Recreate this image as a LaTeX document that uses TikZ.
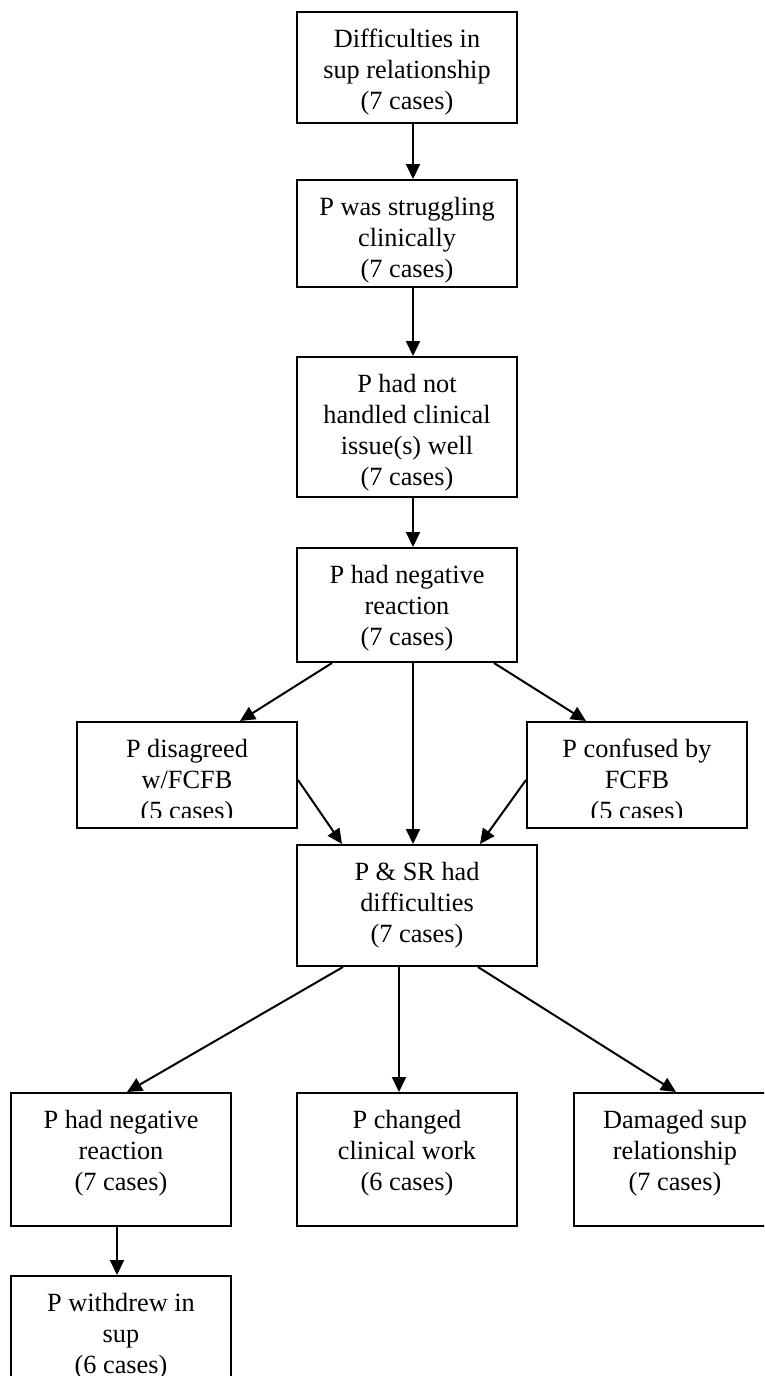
\documentclass[tikz,border=0pt]{standalone}
\usepackage{fontspec}
\setmainfont{Liberation Serif}
\usetikzlibrary{arrows.meta}
\tikzset{box/.style={draw,line width=2pt,minimum width=220pt,inner sep=0pt},
  txt/.style={align=center,inner sep=0pt,anchor=north,font=\fontsize{26.3}{31}\selectfont},
  arr/.style={line width=2pt,-{Triangle[length=15pt,width=14pt]}}}

\begin{document}
\begin{tikzpicture}[x=1pt,y=-1pt]
\path[use as bounding box] (0,0) rectangle (764,1376);
\clip (0,0) rectangle (764,1376);

% main column
\node[box,minimum height=111pt] (sup) at (407,67.5) {};
\node[txt] (supT) at (407,26) {\strut Difficulties in\\sup relationship\\(7 cases)};
\node[box,minimum height=107pt] (strug) at (407,233.5) {};
\begin{scope}
  \clip (297,180) rectangle (517,286);
  \node[txt] (strugT) at (407,194) {\strut P was struggling\\clinically\\(7 cases)};
\end{scope}
\node[box,minimum height=140pt] (hand) at (407,427) {};
\node[txt] (handT) at (407,371) {\strut P had not\\handled clinical\\issue(s) well\\(7 cases)};
\node[box,minimum height=114pt] (neg) at (407,605) {};
\node[txt] (negT) at (407,562) {\strut P had negative\\reaction\\(7 cases)};

% side boxes
\node[box,minimum height=106pt] (dis) at (187,775) {};
\node[box,minimum height=106pt] (conf) at (637,775) {};
\begin{scope}
  \clip (77,722) rectangle (297,817) (527,722) rectangle (747,817);
  \node[txt] (disT) at (187,736) {\strut P disagreed\\w/FCFB\\(5 cases)};
  \node[txt] (confT) at (637,736) {\strut P confused by\\FCFB\\(5 cases)};
\end{scope}
\node[box,minimum width=240pt,minimum height=121pt] (ps) at (417,905.5) {};
\node[txt] (psT) at (417,859) {\strut P \& SR had\\difficulties\\(7 cases)};

% bottom row
\node[box,minimum height=133pt] (neg2) at (121,1159.5) {};
\node[txt] (neg2T) at (121,1107) {\strut P had negative\\reaction\\(7 cases)};
\node[box,minimum height=133pt] (chg) at (407,1159.5) {};
\node[txt] (chgT) at (407,1107) {\strut P changed\\clinical work\\(6 cases)};
\node[box,minimum height=133pt] (dam) at (684,1159.5) {};
\node[txt] (damT) at (675,1107) {\strut Damaged sup\\relationship\\(7 cases)};
\node[box,minimum height=124pt] (wd) at (121,1338) {};
\node[txt] (wdT) at (121,1290) {\strut P withdrew in\\sup\\(6 cases)};

% connectors
\draw[arr] ([xshift=6]sup.south) -- ([xshift=6]strug.north);
\draw[arr] ([xshift=6]strug.south) -- ([xshift=6]hand.north);
\draw[arr] ([xshift=6]hand.south) -- ([xshift=6]neg.north);
\draw[arr] ([xshift=-75]neg.south) -- ([xshift=53]dis.north);
\draw[arr] ([xshift=6]neg.south) -- ([xshift=-4]ps.north);
\draw[arr] ([xshift=87]neg.south) -- ([xshift=-51]conf.north);
\draw[arr] ([yshift=-5]dis.east) -- ([xshift=-75]ps.north);
\draw[arr] ([yshift=-5]conf.west) -- ([xshift=63]ps.north);
\draw[arr] ([xshift=-74]ps.south) -- ([xshift=6]neg2.north);
\draw[arr] ([xshift=-18]ps.south) -- ([xshift=-8]chg.north);
\draw[arr] ([xshift=61]ps.south) -- ([xshift=-8]dam.north);
\draw[arr] ([xshift=-4]neg2.south) -- ([xshift=-4]wd.north);
\end{tikzpicture}
\end{document}
